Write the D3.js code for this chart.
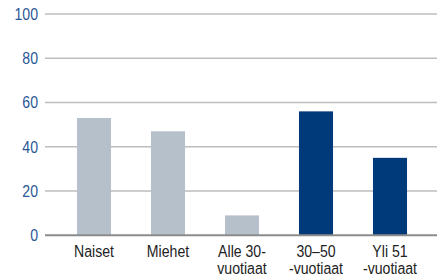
<!DOCTYPE html>
<html>
<head>
<meta charset="utf-8">
<style>
body { margin: 0; background: #fff; }
svg text { font-family: "Liberation Sans", Arial, sans-serif; }
</style>
</head>
<body>
<svg id="chart"></svg>
<script src="https://cdn.jsdelivr.net/npm/d3@7"></script>
<script>
var categories = ["Naiset", "Miehet", "Alle 30-\nvuotiaat", "30\u201350\n-vuotiaat", "Yli 51\n-vuotiaat"];
var values = [53, 47, 9, 56, 35];
var colorGroup = ["grey", "grey", "grey", "navy", "navy"];
var yTicks = [0, 20, 40, 60, 80, 100];

var width = 437, height = 276;
var narrow = 0.83; // squeeze text, no condensed font installed
var svg = d3.select("#chart").attr("width", width).attr("height", height);

var x = d3.scaleBand()
  .domain(categories)
  .range([57, 427])
  .paddingInner(0.54)
  .paddingOuter(0.27);

var y = d3.scaleLinear().domain([0, 100]).range([235.3, 14]);

var colors = { grey: "#b6c0ca", navy: "#003a7b" };

// gridlines
svg.append("g").selectAll("line")
  .data(yTicks.filter(function(d) { return d > 0; }))
  .enter().append("line")
  .attr("x1", 45).attr("x2", width)
  .attr("y1", function(d) { return y(d); })
  .attr("y2", function(d) { return y(d); })
  .attr("stroke", "#bdbdbd")
  .attr("stroke-width", 1.5);

// y labels
svg.append("g").selectAll("text")
  .data(yTicks)
  .enter().append("text")
  .attr("transform", function(d) { return "translate(38," + y(d) + ") scale(" + narrow + ",1)"; })
  .attr("dy", "0.35em")
  .attr("text-anchor", "end")
  .attr("fill", "#2b5797")
  .attr("font-size", 17)
  .text(function(d) { return d; });

// bars
svg.append("g").selectAll("rect")
  .data(values)
  .enter().append("rect")
  .attr("x", function(d, i) { return x(categories[i]); })
  .attr("y", function(d) { return y(d); })
  .attr("width", x.bandwidth())
  .attr("height", function(d) { return y(0) - y(d); })
  .attr("fill", function(d, i) { return colors[colorGroup[i]]; });

// zero line
svg.append("line")
  .attr("x1", 45).attr("x2", width)
  .attr("y1", y(0)).attr("y2", y(0))
  .attr("stroke", "#8c8c8c")
  .attr("stroke-width", 2);

// x labels
var xl = svg.append("g").selectAll("text")
  .data(categories)
  .enter().append("text")
  .attr("transform", function(d) {
    return "translate(" + (x(d) + x.bandwidth() / 2) + ",257) scale(" + narrow + ",1)";
  })
  .attr("text-anchor", "middle")
  .attr("fill", "#222")
  .attr("font-size", 17);

xl.each(function(d) {
  var t = d3.select(this);
  d.split("\n").forEach(function(l, j) {
    t.append("tspan")
      .attr("x", 0)
      .attr("dy", j === 0 ? 0 : 17)
      .text(l);
  });
});
</script>
</body>
</html>
